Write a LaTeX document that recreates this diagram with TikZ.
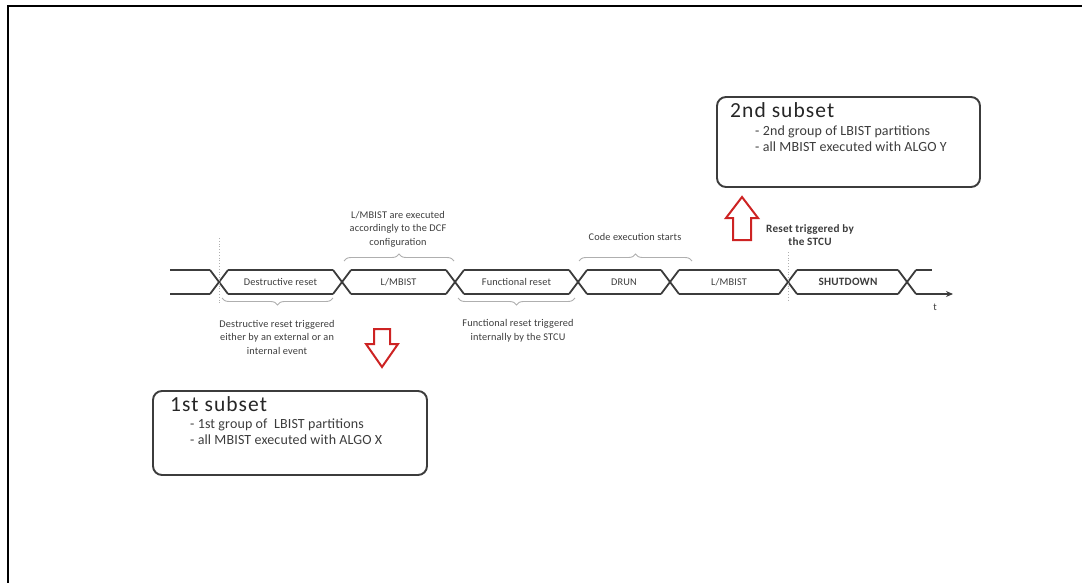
\documentclass[tikz,border=0pt]{standalone}
\usepackage{fontspec}
\setmainfont{Carlito}
\usetikzlibrary{decorations.pathreplacing,arrows.meta}
\definecolor{bus}{RGB}{60,60,60}
\definecolor{txt}{RGB}{60,60,60}
\definecolor{brc}{RGB}{175,175,175}
\definecolor{arr}{RGB}{205,35,35}
\tikzset{
  busline/.style={draw=bus, line width=1.8pt},
  lbl/.style={text=txt, font=\fontsize{10.3}{13.5}\selectfont\addfontfeature{LetterSpace=1.5}, align=center, inner sep=0pt},
  blbl/.style={lbl, font=\fontsize{11.2}{13.5}\selectfont\bfseries\addfontfeature{LetterSpace=2}},
  bracebot/.style={draw=brc, line width=0.9pt, decorate, decoration={brace, amplitude=7pt, mirror}},
  bracetop/.style={draw=brc, line width=0.9pt, decorate, decoration={brace, amplitude=7pt}},
  marker/.style={draw=brc, line width=0.8pt, dotted},
  hollow/.style={draw=arr, line width=2pt, fill=white, line join=miter},
  subbox/.style={draw=bus, line width=1.9pt, rounded corners=9pt, inner sep=0pt},
  boxtitle/.style={text=black!85, font=\fontsize{21.5}{24}\selectfont\addfontfeature{LetterSpace=5}, anchor=base west, inner sep=0pt},
  boxitem/.style={text=txt, font=\fontsize{14}{16}\selectfont\addfontfeature{LetterSpace=1}, anchor=base west, inner sep=0pt},
  frameline/.style={draw=black, line width=2.4pt}
}
\begin{document}
\begin{tikzpicture}[x=1pt, y=-1pt]
\useasboundingbox (0,0) rectangle (1082,583);
% frame
\coordinate (fa) at (7.8,583);
\coordinate (fb) at (7.8,6.2);
\coordinate (fc) at (1082,6.2);
\draw[frameline] (fa) -- (fb) -- (fc);

% bus crossings
\def\yu{270}\def\yl{294}
\foreach \n/\x in {0/219,1/342,2/455,3/578,4/670,5/788,6/907}{
  \coordinate (ul\n) at ({\x-9},\yu);
  \coordinate (ll\n) at ({\x-9},\yl);
  \coordinate (ur\n) at ({\x+9},\yu);
  \coordinate (lr\n) at ({\x+9},\yl);
  \draw[busline] (ul\n) -- (lr\n);
  \draw[busline] (ll\n) -- (ur\n);
}
\coordinate (us) at (170,\yu);
\coordinate (ls) at (170,\yl);
\coordinate (ue) at (932,\yu);
\coordinate (le) at (953,\yl);
\draw[busline] (us) -- (ul0);
\draw[busline] (ls) -- (ll0);
\foreach \a/\b in {0/1,1/2,2/3,3/4,4/5,5/6}{
  \draw[busline] (ur\a) -- (ul\b);
  \draw[busline] (lr\a) -- (ll\b);
}
\draw[busline] (ur6) -- (ue);
\draw[busline, -{Stealth[length=7pt,width=6pt]}] (lr6) -- (le);
\node[lbl, anchor=north] (tlab) at (935,304) {t};

% markers
\coordinate (m0a) at (219,238);
\coordinate (m0b) at (219,304);
\coordinate (m1a) at (788,252);
\coordinate (m1b) at (788,302);
\draw[marker] (m0a) -- (m0b);
\draw[marker] (m1a) -- (m1b);

% segment labels
\node[lbl] (s1) at (280.5,282) {Destructive reset};
\node[lbl] (s2) at (398.5,282) {L/MBIST};
\node[lbl] (s3) at (516.5,282) {Functional reset};
\node[lbl] (s4) at (624,282) {DRUN};
\node[lbl] (s5) at (729,282) {L/MBIST};
\node[blbl] (s6) at (848,282) {SHUTDOWN};

% braces
\coordinate (b1a) at (222,298);
\coordinate (b1b) at (333,298);
\coordinate (b2a) at (344,261);
\coordinate (b2b) at (454,261);
\coordinate (b3a) at (458,298);
\coordinate (b3b) at (575,298);
\coordinate (b4a) at (579,261);
\coordinate (b4b) at (692,261);
\draw[bracebot] (b1a) -- (b1b);
\draw[bracetop] (b2a) -- (b2b);
\draw[bracebot] (b3a) -- (b3b);
\draw[bracetop] (b4a) -- (b4b);

% annotations
\node[lbl] (n1) at (398,229) {L/MBIST are executed\\accordingly to the DCF\\configuration};
\node[lbl] (n2) at (635,237) {Code execution starts};
\node[lbl] (n3) at (277,337) {Destructive reset triggered\\either by an external or an\\internal event};
\node[lbl] (n4) at (518,331) {Functional reset triggered\\internally by the STCU};
\node[blbl] (n5) at (810,235) {Reset triggered by\\the STCU};

% red hollow arrows
\draw[hollow] (374,329) -- (390,329) -- (390,344) -- (398,344) -- (382,367) -- (366,344) -- (374,344) -- cycle;
\draw[hollow] (733,240) -- (751,240) -- (751,218) -- (758,218) -- (742,197) -- (726,218) -- (733,218) -- cycle;

% subset boxes
\node[subbox, minimum width=263pt, minimum height=90pt] (sub2) at (848.5,142) {};
\node[boxtitle] (sub2t) at (730,118) {2nd subset};
\node[boxitem] (sub2a) at (755,135.5) {- 2nd group of LBIST partitions};
\node[boxitem] (sub2b) at (755,152) {- all MBIST executed with ALGO Y};

\node[subbox, minimum width=274pt, minimum height=84pt] (sub1) at (290,433) {};
\node[boxtitle] (sub1t) at (170,411) {1st subset};
\node[boxitem] (sub1a) at (190,428) {- 1st group of\ \ LBIST partitions};
\node[boxitem] (sub1b) at (190,444.5) {- all MBIST executed with ALGO X};
\end{tikzpicture}
\end{document}
